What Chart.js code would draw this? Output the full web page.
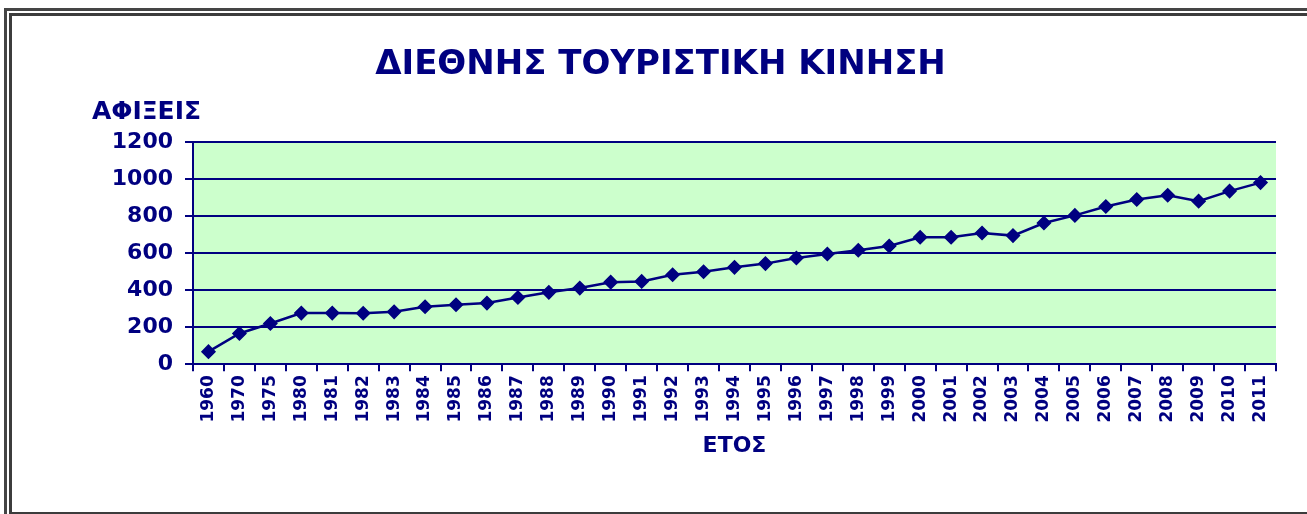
<!DOCTYPE html>
<html>
<head>
<meta charset="utf-8">
<script src="https://cdn.jsdelivr.net/npm/chart.js@4"></script>
<style>
  body { margin:0; background:#fff; }
  #wrap { position:relative; width:1307px; height:514px; overflow:hidden; }
  .frame { position:absolute; border:3px solid #454545; pointer-events:none; }
  #outer { left:4px; top:8px; width:1400px; height:600px; }
  #inner { left:9px; top:13px; width:1400px; height:496px; border-color:#3c3c3c; }
</style>
</head>
<body>
<div id="wrap">
  <canvas id="tourism" width="1307" height="514"></canvas>
  <div class="frame" id="outer"></div>
  <div class="frame" id="inner"></div>
</div>
<script>
const years = ['1960','1970','1975','1980','1981','1982','1983','1984','1985','1986','1987','1988',
  '1989','1990','1991','1992','1993','1994','1995','1996','1997','1998','1999','2000','2001','2002',
  '2003','2004','2005','2006','2007','2008','2009','2010','2011'];
const arrivals = [68,166,220,276,276,275,283,310,321,330,360,388,
  411,443,447,483,499,523,543,573,595,615,638,685,685,708,
  694,762,803,851,889,912,880,934,980];

const navy = '#000080';
const fontFam = '"DejaVu Sans", Verdana, sans-serif';

// green plot background + horizontal y title
const plotExtras = {
  id: 'plotExtras',
  beforeDraw(chart){
    const a = chart.chartArea;
    const ctx = chart.ctx;
    ctx.save();
    ctx.fillStyle = '#ccffcc';
    ctx.fillRect(a.left, a.top, a.right - a.left, a.bottom - a.top);
    ctx.restore();
  },
  afterDraw(chart){
    const a = chart.chartArea;
    const ctx = chart.ctx;
    ctx.save();
    ctx.font = 'bold 25px ' + fontFam;
    ctx.fillStyle = navy;
    ctx.textAlign = 'center';
    ctx.textBaseline = 'middle';
    ctx.fillText('ΑΦΙΞΕΙΣ', a.left - 46.5, a.top - 29);
    ctx.restore();
  }
};

new Chart(document.getElementById('tourism'), {
  type: 'line',
  data: {
    labels: years,
    datasets: [{
      label: 'ΑΦΙΞΕΙΣ',
      data: arrivals,
      borderColor: navy,
      borderWidth: 2.5,
      backgroundColor: navy,
      pointStyle: 'rectRot',
      pointRadius: 6.5,
      pointBorderWidth: 1.5,
      pointBackgroundColor: navy,
      pointBorderColor: navy,
      tension: 0
    }]
  },
  options: {
    responsive: false,
    animation: false,
    devicePixelRatio: 1,
    layout: { padding: { left: 45, right: 31, top: 10, bottom: 49 } },
    plugins: {
      legend: { display: false },
      tooltip: { enabled: false },
      title: {
        display: true,
        text: 'ΔΙΕΘΝΗΣ ΤΟΥΡΙΣΤΙΚΗ ΚΙΝΗΣΗ',
        color: navy,
        font: { family: fontFam, size: 34, weight: 'bold' },
        padding: { top: 35, bottom: 56 }
      }
    },
    scales: {
      x: {
        offset: true,
        grid: { offset: true, drawOnChartArea: false, drawTicks: true, tickLength: 7, color: navy, lineWidth: 2 },
        border: { color: navy, width: 2 },
        ticks: {
          autoSkip: false, minRotation: 90, maxRotation: 90, padding: 4,
          color: navy, font: { family: fontFam, size: 17, weight: 'bold' }
        },
        title: {
          display: true, text: 'ΕΤΟΣ', color: navy,
          font: { family: fontFam, size: 22, weight: 'bold' },
          padding: { top: 6, bottom: 6 }
        }
      },
      y: {
        min: 0, max: 1200,
        afterFit: function(scale){ scale.width = 148; },
        grid: { color: navy, lineWidth: 2, tickLength: 8 },
        border: { color: navy, width: 2 },
        ticks: {
          stepSize: 200, padding: 12, color: navy,
          font: { family: fontFam, size: 22, weight: 'bold' },
          callback: function(v){ return String(v); }
        }
      }
    }
  },
  plugins: [plotExtras]
});
</script>
</body>
</html>
